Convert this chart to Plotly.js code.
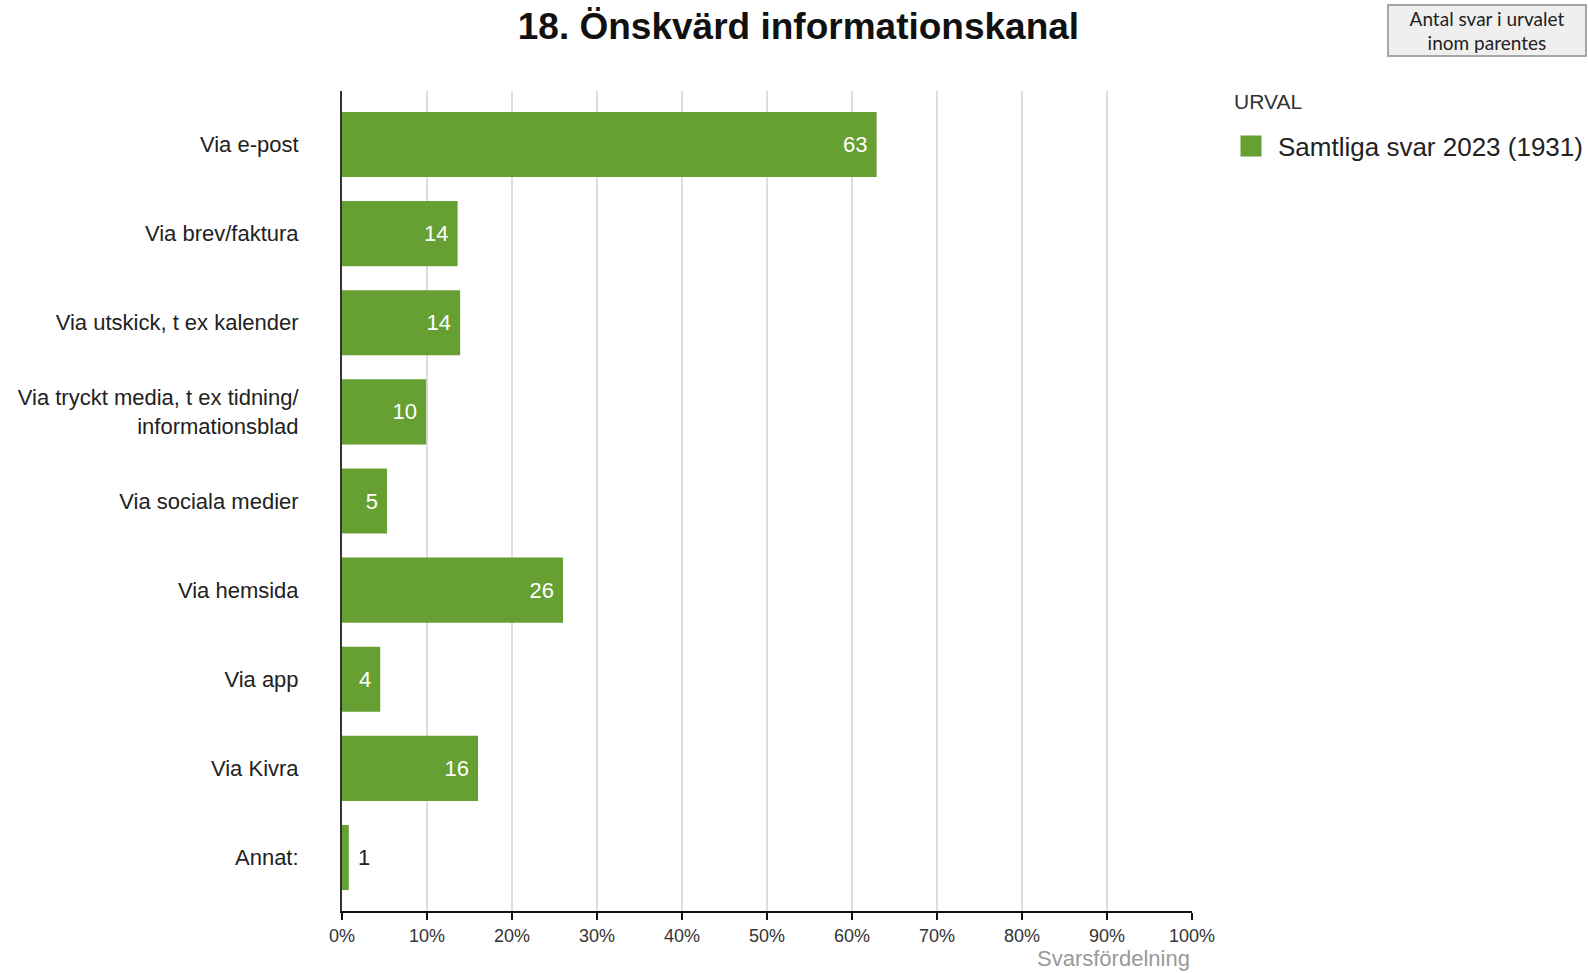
<!DOCTYPE html>
<html>
<head>
<meta charset="utf-8">
<script src="https://cdn.plot.ly/plotly-3.0.1.min.js"></script>
<style>html,body{margin:0;padding:0;background:#fff;}#chart{width:1588px;height:973px;}</style>
</head>
<body>
<div id="chart"></div>
<script>
const categories = [
  'Via e-post',
  'Via brev/faktura',
  'Via utskick, t ex kalender',
  'Via tryckt media, t ex tidning/<br>informationsblad',
  'Via sociala medier',
  'Via hemsida',
  'Via app',
  'Via Kivra',
  'Annat:'
];
const values = [62.9, 13.6, 13.9, 9.9, 5.3, 26.0, 4.5, 16.0, 0.8];
const valueLabels = ['63', '14', '14', '10', '5', '26', '4', '16', '1'];
const xTickVals = [0, 10, 20, 30, 40, 50, 60, 70, 80, 90, 100];
const xTickText = ['0%', '10%', '20%', '30%', '40%', '50%', '60%', '70%', '80%', '90%', '100%'];
const seriesName = 'Samtliga svar 2023 (1931)';
const legendTitle = 'URVAL';
const chartTitle = '18. Önskvärd informationskanal';
const xAxisTitle = 'Svarsfördelning';
const noteText = 'Antal svar i urvalet<br>inom parentes';

const green = '#66a032';
const fontFam = '"Liberation Sans", Arial, sans-serif';

const traces = [
  {
    type: 'bar',
    orientation: 'h',
    y: categories,
    x: values,
    text: valueLabels,
    texttemplate: '\u00a0%{text}\u00a0',
    textposition: 'auto',
    insidetextanchor: 'end',
    insidetextfont: {family: fontFam, size: 22, color: '#ffffff'},
    outsidetextfont: {family: fontFam, size: 22, color: '#222222'},
    marker: {color: green, line: {width: 0}},
    showlegend: false,
    cliponaxis: false
  },
  {
    type: 'scatter',
    mode: 'markers',
    x: [null],
    y: [null],
    name: seriesName,
    marker: {symbol: 'square', size: 16, color: green, line: {color: green, width: 5}},
    showlegend: true
  }
];

const layout = {
  width: 1588,
  height: 973,
  paper_bgcolor: '#ffffff',
  plot_bgcolor: '#ffffff',
  margin: {l: 342, r: 396, t: 91, b: 62, pad: 0},
  font: {family: fontFam, color: '#222'},
  bargap: 0.27,
  title: {
    text: '<b>' + chartTitle + '</b>',
    font: {family: fontFam, size: 37, color: '#111'},
    x: 0.5028, xref: 'container', xanchor: 'center',
    y: 1 - 26 / 973, yref: 'container', yanchor: 'middle'
  },
  xaxis: {
    range: [0, 100],
    tickvals: xTickVals,
    ticktext: xTickText,
    tickfont: {family: fontFam, size: 18, color: '#333'},
    ticks: 'outside',
    ticklen: 7,
    tickwidth: 1.5,
    tickcolor: '#111',
    showline: true,
    linecolor: '#111',
    linewidth: 2,
    showgrid: true,
    gridcolor: '#dddddd',
    gridwidth: 1.5,
    zeroline: false,
    fixedrange: true
  },
  yaxis: {
    type: 'category',
    categoryorder: 'array',
    categoryarray: categories,
    range: [8.6, -0.6],
    tickfont: {family: fontFam, size: 22, color: '#222'},
    ticks: '',
    ticklabelstandoff: 37,
    showline: true,
    linecolor: '#333',
    linewidth: 2,
    showgrid: false,
    zeroline: false,
    fixedrange: true
  },
  legend: {
    font: {family: fontFam, size: 26, color: '#222'},
    xref: 'container', yref: 'container',
    x: 1224 / 1588, xanchor: 'left',
    y: 1 - 146 / 973, yanchor: 'middle',
    itemwidth: 44,
    bgcolor: 'rgba(0,0,0,0)',
    borderwidth: 0
  },
  annotations: [
    {
      text: legendTitle,
      xref: 'paper', yref: 'paper',
      x: 1 + (1232 - 1192) / 850, xanchor: 'left',
      y: 1 + (91 - 101.5) / 820.5, yanchor: 'middle',
      showarrow: false,
      font: {family: fontFam, size: 21, color: '#333'}
    },
    {
      text: xAxisTitle,
      xref: 'paper', yref: 'paper',
      x: 1, xanchor: 'right',
      y: -0.058, yanchor: 'middle',
      showarrow: false,
      font: {family: fontFam, size: 22, color: '#999'}
    },
    {
      text: noteText,
      xref: 'paper', yref: 'paper',
      x: 1 + (1487 - 1192) / 850, xanchor: 'center',
      y: 1 + (91 - 30) / 820.5, yanchor: 'middle',
      showarrow: false,
      width: 196, height: 49,
      align: 'center',
      bgcolor: '#efefef',
      bordercolor: '#a6a6a6',
      borderwidth: 2,
      borderpad: 0,
      font: {family: 'Lato, "Open Sans", sans-serif', size: 19, color: '#222'}
    }
  ],
  hovermode: false
};

Plotly.newPlot('chart', traces, layout, {displayModeBar: false, staticPlot: true});
</script>
</body>
</html>
